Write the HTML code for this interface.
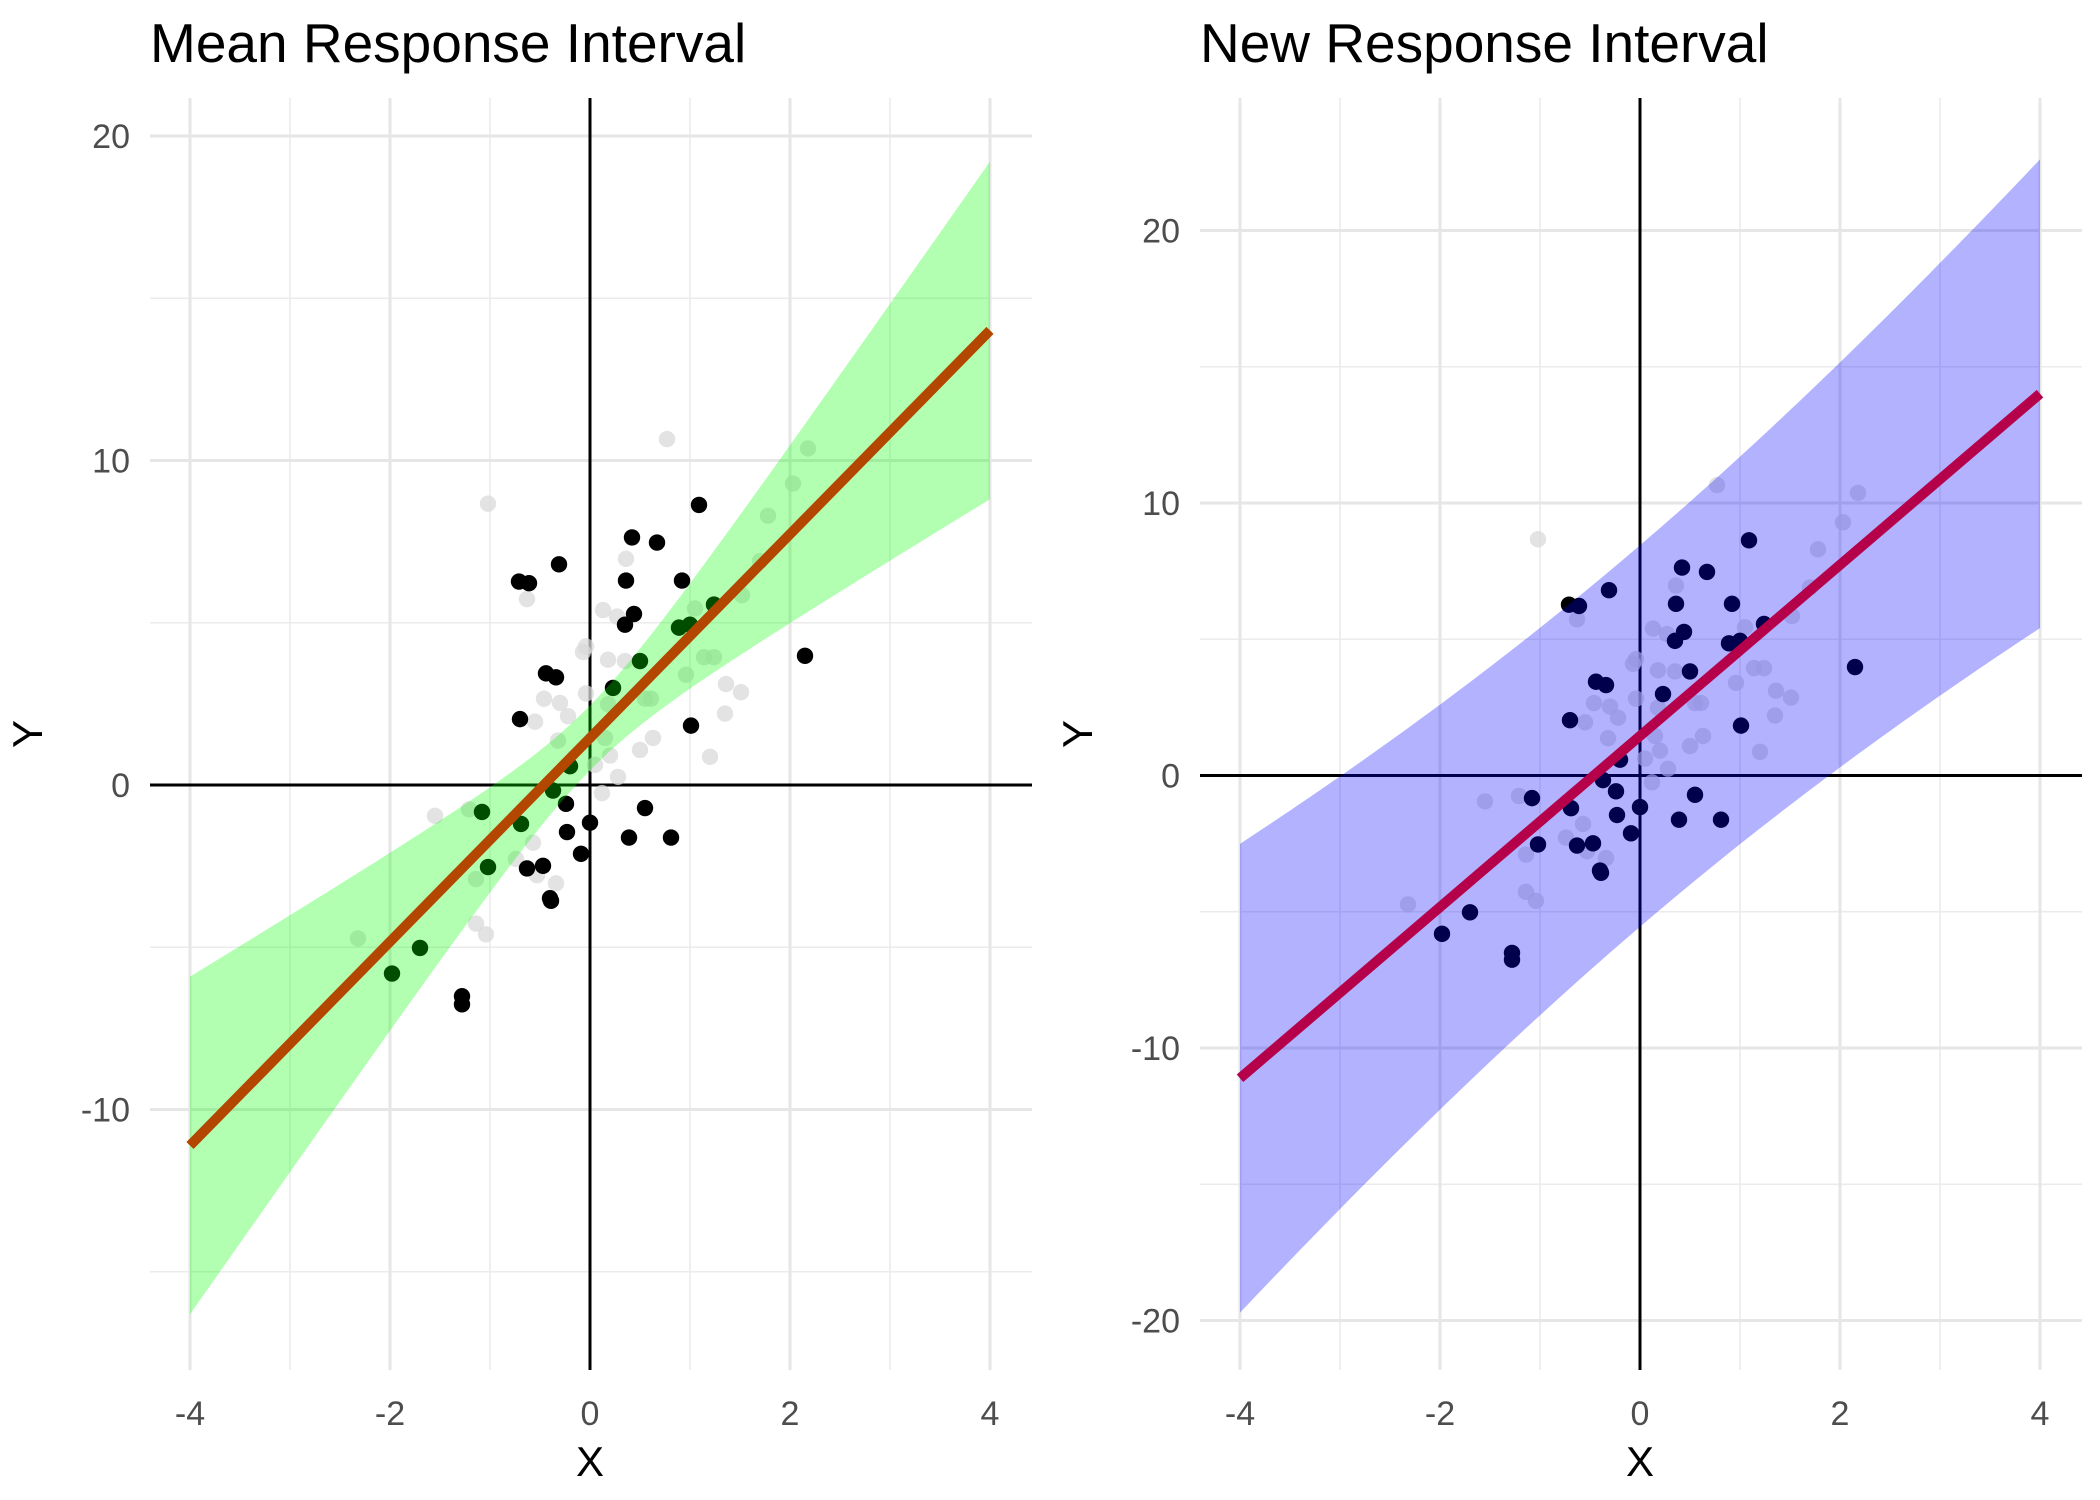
<!DOCTYPE html>
<html><head><meta charset="utf-8"><style>
html,body{margin:0;padding:0;background:#fff;}
svg{display:block;font-family:"Liberation Sans",sans-serif;}
</style></head><body>
<svg id="chart" width="2100" height="1500" viewBox="0 0 2100 1500" xmlns="http://www.w3.org/2000/svg"></svg>
<script>
// Highlighted (black) points
const blackX = [1.09,0.42,0.67,-0.31,-0.71,-0.61,0.36,0.92,0.35,0.44,-0.44,-0.34,2.15,-0.70,1.01,0,-0.09,-0.23,-0.24,0.39,0.81,0.55,-0.63,-0.47,-0.40,-0.39,-1.28,-1.28,-1.08,-0.69,-1.02,-1.70,-1.98,-0.37,-0.2,0.23,0.5,0.89,1.0,1.24];
const blackY = [8.63,7.63,7.47,6.8,6.27,6.22,6.3,6.3,4.94,5.27,3.44,3.32,3.98,2.03,1.83,-1.16,-2.12,-1.45,-0.58,-1.62,-1.62,-0.71,-2.57,-2.49,-3.49,-3.57,-6.51,-6.76,-0.83,-1.2,-2.53,-5.02,-5.81,-0.17,0.58,2.99,3.82,4.85,4.94,5.56];
// Faded (grey) points
const greyX = [0.77,-1.02,2.18,2.03,1.78,0.36,-0.63,0.13,0.27,1.05,1.52,-0.07,-0.04,0.18,0.35,1.14,1.24,0.96,1.36,1.51,-0.46,-0.3,-0.04,0.18,0.55,0.61,-0.55,-0.22,1.35,-0.32,0.15,0.63,0.5,0.2,1.2,0.05,0.12,-1.55,-1.21,-0.57,-0.74,-0.34,-1.14,-1.14,-1.04,-2.32,-0.53,0.28,1.7];
const greyY = [10.66,8.67,10.37,9.29,8.3,6.97,5.73,5.39,5.19,5.44,5.85,4.1,4.27,3.86,3.82,3.94,3.94,3.4,3.11,2.86,2.66,2.53,2.82,2.49,2.66,2.66,1.95,2.12,2.2,1.37,1.45,1.45,1.08,0.91,0.87,0.62,-0.25,-0.95,-0.75,-1.78,-2.28,-3.03,-2.9,-4.27,-4.6,-4.73,-2.78,0.25,6.9];
// Fit parameters
const fitIntercept = [1.45];
const fitSlope = [3.14];
const meanBandA = [1.0];
const meanBandB = [1.63];
const predBandA = [49];
const predBandB = [1.56];
const xTicks = [-4,-2,0,2,4];
const xMinor = [-3,-1,1,3];
const leftYTicks = [-10,0,10,20];
const leftYMinor = [-15,-5,5,15];
const rightYTicks = [-20,-10,0,10,20];
const rightYMinor = [-15,-5,5,15];

const svg = document.getElementById('chart');
const NS = 'http://www.w3.org/2000/svg';
function mk(tag, attrs, parent){const e=document.createElementNS(NS,tag);for(const k in attrs)e.setAttribute(k,attrs[k]);(parent||svg).appendChild(e);return e;}

function panel(cfg){
  const g = mk('g',{});
  
  
  const sx = v => cfg.x0 + v*100;
  const sy = v => cfg.y0 - v*cfg.ky;
  const L=cfg.left, R=L+882, T=98, B=1370;
  cfg.yMinor.forEach(v=>{const l=mk('line',{x1:L,x2:R,y1:sy(v),y2:sy(v),stroke:'#ebebeb','stroke-width':1.6},g);
    });
  xMinor.forEach(v=>{const l=mk('line',{x1:sx(v),x2:sx(v),y1:T,y2:B,stroke:'#ebebeb','stroke-width':1.6},g);
    });
  cfg.yTicks.forEach(v=>{const l=mk('line',{x1:L,x2:R,y1:sy(v),y2:sy(v),stroke:'#e6e6e6','stroke-width':3},g);
    
    const t=mk('text',{x:L-20,y:sy(v)+12,'text-anchor':'end','font-size':34,fill:'#4d4d4d'},g);t.textContent=v;
    });
  xTicks.forEach(v=>{const l=mk('line',{x1:sx(v),x2:sx(v),y1:T,y2:B,stroke:'#e6e6e6','stroke-width':3},g);
    
    const t=mk('text',{x:sx(v),y:1425,'text-anchor':'middle','font-size':34,fill:'#4d4d4d'},g);t.textContent=v;
    });
  const hz=mk('line',{x1:L,x2:R,y1:sy(0),y2:sy(0),stroke:'#000','stroke-width':3},g);
  
  const vz=mk('line',{x1:sx(0),x2:sx(0),y1:T,y2:B,stroke:'#000','stroke-width':3},g);
  
  greyX.forEach((x,i)=>{const c=mk('circle',{cx:sx(x),cy:sy(greyY[i]),r:8.2,fill:'#d9d9d9','fill-opacity':0.75},g);
    });
  blackX.forEach((x,i)=>{const c=mk('circle',{cx:sx(x),cy:sy(blackY[i]),r:8.2,fill:'#000'},g);
    });
  const top=[],bot=[];
  for(let k=0;k<=80;k++){const x=-4+k*0.1;const m=fitIntercept[0]+fitSlope[0]*x;const h=Math.sqrt(cfg.bA+cfg.bB*x*x);
    top.push(sx(x)+','+sy(m+h));bot.unshift(sx(x)+','+sy(m-h));}
  const band=mk('polygon',{points:top.concat(bot).join(' '),fill:cfg.bandColor,'fill-opacity':0.3},g);
  
  const fl=mk('line',{x1:sx(-4),y1:sy(fitIntercept[0]-4*fitSlope[0]),x2:sx(4),y2:sy(fitIntercept[0]+4*fitSlope[0]),stroke:cfg.lineColor,'stroke-width':10},g);
  
  const tt=mk('text',{x:L,y:62,'font-size':55,fill:'#000'},g);tt.textContent=cfg.title;
  
  const xt=mk('text',{x:sx(0),y:1476,'text-anchor':'middle','font-size':42,fill:'#000'},g);xt.textContent='X';
  
  const yx=L-108, yy=734;
  const yt=mk('text',{x:yx,y:yy,'text-anchor':'middle','font-size':42,fill:'#000',transform:`rotate(-90 ${yx} ${yy})`},g);yt.textContent='Y';
  
}
panel({name:'mean-response-panel',left:150,x0:590,y0:785,ky:32.45,yTicks:leftYTicks,yMinor:leftYMinor,bA:meanBandA[0],bB:meanBandB[0],bandColor:'#00ff00',bandName:'confidence-band',lineColor:'#b34700',title:'Mean Response Interval'});
panel({name:'new-response-panel',left:1200,x0:1640,y0:775.5,ky:27.25,yTicks:rightYTicks,yMinor:rightYMinor,bA:predBandA[0],bB:predBandB[0],bandColor:'#0000ff',bandName:'prediction-band',lineColor:'#b5004a',title:'New Response Interval'});
</script>
</body></html>
